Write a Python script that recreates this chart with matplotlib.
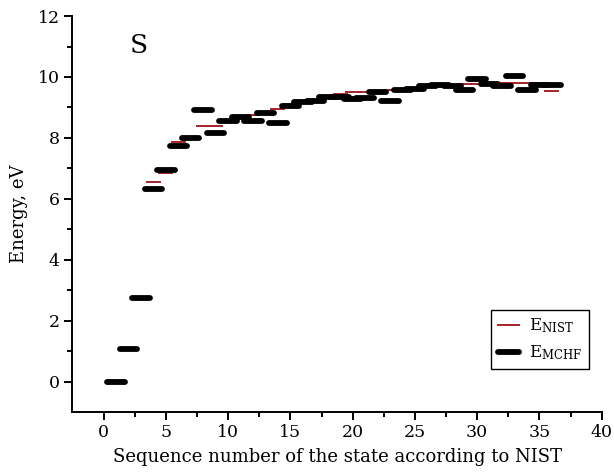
import numpy as np
import matplotlib
matplotlib.use('Agg')
import matplotlib.pyplot as plt
from matplotlib.lines import Line2D

plt.rcParams['font.family'] = ['DejaVu Serif']
plt.rcParams['mathtext.fontset'] = 'dejavuserif'

# Номера состояний по NIST
states = np.arange(1, 37)

# Энергии, эВ
e_nist = [0.00, 1.05, 2.75, 6.54, 6.85, 7.85, 8.02, 8.39, 8.39, 8.58,
          8.70, 8.75, 8.85, 8.95, 9.10, 9.20, 9.26, 9.36, 9.45, 9.50,
          9.51, 9.53, 9.56, 9.60, 9.64, 9.70, 9.72, 9.74, 9.76, 9.78,
          9.79, 9.80, 9.80, 9.80, 9.80, 9.53]
e_mchf = [0.00, 1.07, 2.75, 6.33, 6.95, 7.73, 8.00, 8.91, 8.16, 8.55,
          8.67, 8.55, 8.82, 8.48, 9.05, 9.17, 9.22, 9.35, 9.33, 9.27,
          9.32, 9.50, 9.21, 9.58, 9.62, 9.70, 9.73, 9.72, 9.58, 9.94,
          9.76, 9.72, 10.04, 9.56, 9.74, 9.75]

red = '#a3242a'

fig = plt.figure(figsize=(6.14, 4.73), dpi=100)
ax = fig.add_axes([0.118, 0.129, 0.862, 0.837])

# NIST - тонкие красные отрезки, MCHF - толстые черные
for n, e in zip(states, e_nist):
    ax.plot([n - 0.6, n + 0.6], [e, e], color=red, lw=1.4,
            solid_capstyle='butt', zorder=2)
for n, e in zip(states, e_mchf):
    ax.plot([n - 0.7, n + 0.7], [e, e], color='black', lw=4.2,
            solid_capstyle='round', zorder=3)

ax.set_xlim(-2.5, 40)
ax.set_ylim(-1, 12)
ax.set_xticks(np.arange(0, 41, 5))
ax.set_xticks(np.arange(2.5, 40, 5), minor=True)
ax.set_yticks(np.arange(0, 13, 2))
ax.set_yticks(np.arange(1, 12, 2), minor=True)

for side in ['top', 'right']:
    ax.spines[side].set_visible(False)
for side in ['left', 'bottom']:
    ax.spines[side].set_linewidth(1.4)
ax.tick_params(which='major', direction='out', length=6, width=1.4,
               labelsize=12.5, pad=3)
ax.tick_params(which='minor', direction='out', length=3.5, width=1.4)

ax.set_xlabel('Sequence number of the state according to NIST', fontsize=13,
              labelpad=5)
ax.set_ylabel('Energy, eV', fontsize=13, labelpad=7)

ax.text(2.8, 11.05, 'S', fontsize=19, ha='center', va='center')

handles = [
    Line2D([0], [0], color=red, lw=1.4),
    Line2D([0], [0], color='black', lw=4.2, solid_capstyle='round'),
]
leg = ax.legend(handles, [r'E$_{\rm NIST}$', r'E$_{\rm MCHF}$'],
                loc='lower right', bbox_to_anchor=(0.976, 0.109),
                borderaxespad=0, fontsize=12, fancybox=False,
                edgecolor='black', framealpha=1, handlelength=1.3,
                handletextpad=0.6, borderpad=0.4, labelspacing=0.5)
leg.get_frame().set_linewidth(1.0)

plt.savefig('out.png', dpi=100)
